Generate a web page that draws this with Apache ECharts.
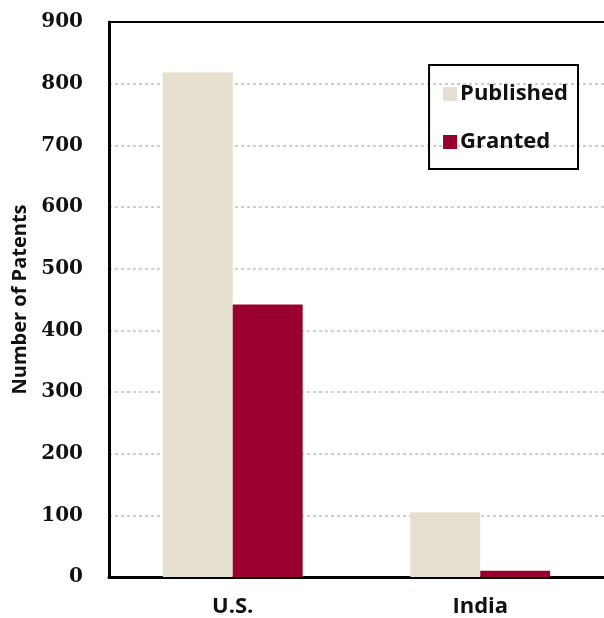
<!DOCTYPE html>
<html><head><meta charset="utf-8">
<script src="https://cdn.jsdelivr.net/npm/echarts@6/dist/echarts.min.js"></script>
<style>html,body{margin:0;padding:0;background:#fff}#c{width:604px;height:618px}</style>
</head><body><div id="c"></div>
<script>
const categories = ['U.S.', 'India'];
const published = [818, 105];
const granted = [442, 10];
const seriesNames = ['Published', 'Granted'];

const chart = echarts.init(document.getElementById('c'));
chart.setOption({
  animation: false,
  grid: { left: 109, right: -3, top: 22, bottom: 41, containLabel: false },
  legend: {
    orient: 'vertical', right: 26, top: 65,
    padding: [18, 10, 16, 14],
    borderColor: '#000', borderWidth: 2,
    itemWidth: 14, itemHeight: 14, itemGap: 26, icon: 'rect',
    textStyle: { fontFamily: 'Open Sans', fontWeight: 'bold', fontSize: 22, color: '#111', padding: [0, 0, 0, -2] },
    data: seriesNames
  },
  xAxis: [{
    type: 'category', data: categories,
    axisLine: { lineStyle: { color: '#000', width: 3 } },
    axisTick: { show: false },
    axisLabel: { fontFamily: 'Open Sans', fontWeight: 'bold', fontSize: 22, color: '#111', margin: 19 }
  }, {
    type: 'category', data: categories, position: 'top',
    axisLine: { show: true, lineStyle: { color: '#000', width: 2 } },
    axisTick: { show: false }, axisLabel: { show: false }
  }],
  yAxis: {
    type: 'value', min: 0, max: 900, interval: 100,
    name: 'Number of Patents', nameLocation: 'middle', nameGap: 78,
    nameTextStyle: { fontFamily: 'Open Sans', fontWeight: 'bold', fontSize: 20, color: '#111' },
    axisLine: { show: true, lineStyle: { color: '#000', width: 3 } },
    axisTick: { show: false },
    axisLabel: { fontFamily: 'DejaVu Serif', fontWeight: 'bold', fontSize: 20, color: '#111', margin: 26 },
    splitLine: { lineStyle: { color: '#cfcfcf', type: [3, 3], width: 2 } }
  },
  series: [
    { name: seriesNames[0], type: 'bar', data: published, itemStyle: { color: '#e5dfcf' }, barGap: '0%', barCategoryGap: '43.5%' },
    { name: seriesNames[1], type: 'bar', data: granted, itemStyle: { color: '#990030' } }
  ]
});
</script></body></html>
